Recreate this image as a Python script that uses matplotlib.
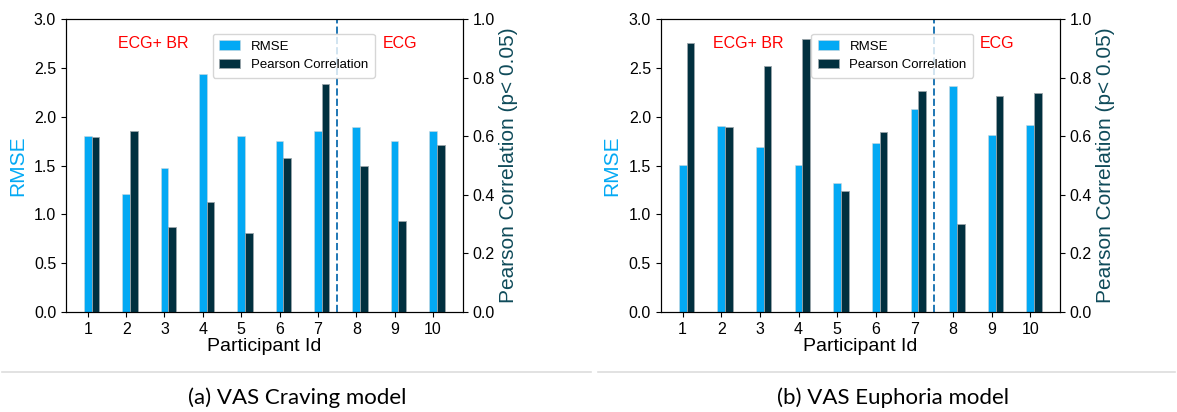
import matplotlib

matplotlib.use("Agg")
import matplotlib.pyplot as plt
from matplotlib.lines import Line2D
import numpy as np

plt.rcParams["font.family"] = ["Liberation Sans", "DejaVu Sans"]

participants = np.arange(1, 11)
tick_labels = [str(p) for p in participants]

craving_rmse = [1.80, 1.21, 1.47, 2.44, 1.80, 1.755, 1.855, 1.89, 1.75, 1.85]
craving_corr = [0.597, 0.617, 0.29, 0.376, 0.27, 0.527, 0.779, 0.499, 0.311, 0.570]

euphoria_rmse = [1.51, 1.905, 1.69, 1.505, 1.317, 1.728, 2.077, 2.316, 1.81, 1.92]
euphoria_corr = [0.919, 0.632, 0.839, 0.932, 0.414, 0.615, 0.753, 0.30, 0.739, 0.749]

captions = ["(a) VAS Craving model", "(b) VAS Euphoria model"]

RMSE_COLOR = "#03A9F4"
CORR_COLOR = "#01303F"
CORR_LABEL_COLOR = "#0f4b5a"
WIDTH = 0.2


def draw_panel(ax, rmse, corr, legend_x):
    ax2 = ax.twinx()
    b1 = ax.bar(participants, rmse, WIDTH, color=RMSE_COLOR,
                edgecolor="#cfd8dc", linewidth=0.4, label="RMSE")
    b2 = ax2.bar(participants + WIDTH, corr, WIDTH, color=CORR_COLOR,
                 edgecolor="#9aa5aa", linewidth=0.6, label="Pearson Correlation")
    ax.set_ylim(0, 3.0)
    ax2.set_ylim(0, 1.0)
    ax.set_xlim(0.43, 10.77)
    ax.set_xticks(participants)
    ax.set_xticklabels(tick_labels)
    ax.set_yticks(np.arange(0, 3.01, 0.5))
    ax2.set_yticks(np.arange(0, 1.01, 0.2))
    ax.tick_params(labelsize=11.5)
    ax2.tick_params(labelsize=11.5)
    ax.set_xlabel("Participant Id", fontsize=14, labelpad=1)
    ax.set_ylabel("RMSE", fontsize=15, color=RMSE_COLOR, labelpad=5)
    ax2.set_ylabel("Pearson Correlation (p< 0.05)", fontsize=15,
                   color=CORR_LABEL_COLOR, labelpad=3)
    ax.axvline(7.5, color="#1f77b4", linestyle="--", linewidth=1.4)
    ax.text(2.7, 2.75, "ECG+ BR", color="red", fontsize=11.5,
            ha="center", va="center")
    ax.text(9.13, 2.75, "ECG", color="red", fontsize=11.5,
            ha="center", va="center")
    ax2.legend([b1, b2], ["RMSE", "Pearson Correlation"], fontsize=9.5,
               loc="upper left", bbox_to_anchor=(legend_x, 0.95),
               borderaxespad=0, handlelength=1.6, borderpad=0.5)


fig = plt.figure(figsize=(11.77, 4.12), dpi=100)
ax_a = fig.add_axes([0.056, 0.2427, 0.337, 0.711])
ax_b = fig.add_axes([0.5613, 0.2427, 0.3393, 0.711])

draw_panel(ax_a, craving_rmse, craving_corr, 0.37)
draw_panel(ax_b, euphoria_rmse, euphoria_corr, 0.377)

# caption separator lines and captions
y_line = (412 - 372) / 412
fig.add_artist(Line2D([0.002, 0.502], [y_line, y_line], color="#dddddd", lw=1.2))
fig.add_artist(Line2D([0.508, 0.998], [y_line, y_line], color="#dddddd", lw=1.2))
fig.text(297 / 1177, 0.034, captions[0], fontsize=16, family=["Lato", "DejaVu Sans"],
         ha="center", va="center")
fig.text(893 / 1177, 0.034, captions[1], fontsize=16, family=["Lato", "DejaVu Sans"],
         ha="center", va="center")

fig.savefig("out.png", dpi=100)
